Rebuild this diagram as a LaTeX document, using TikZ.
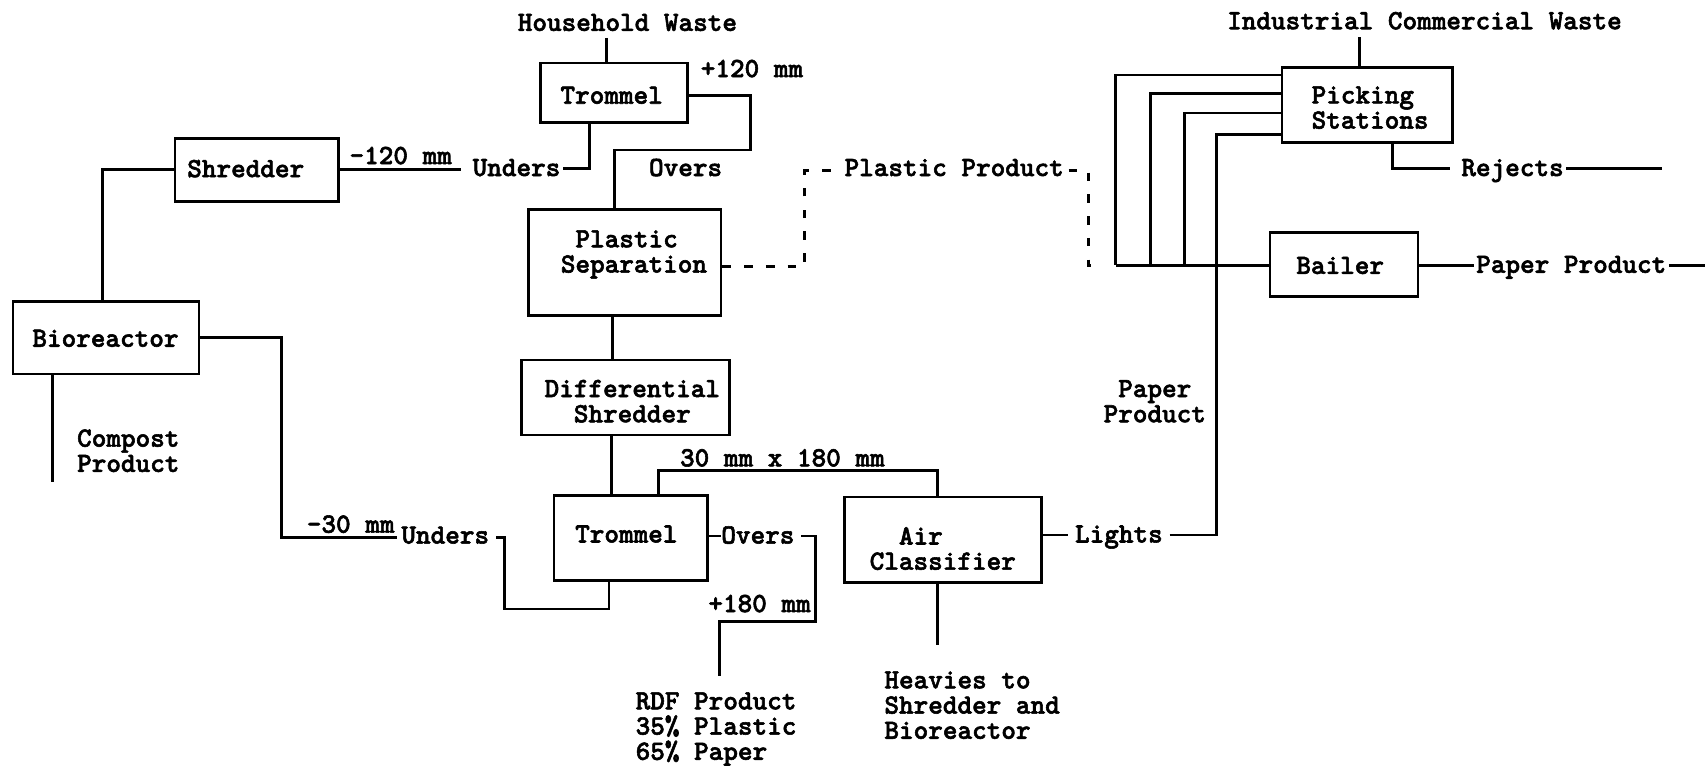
\documentclass[tikz,border=0pt]{standalone}
\usepackage{fontspec}
\newfontfamily\tw{lmmonolt10-bold.otf}[FakeBold=2]
\begin{document}
\begin{tikzpicture}[x=0.5pt,y=-0.5pt,
 box/.style={draw, line width=1.3pt, inner sep=0pt},
 lbl/.style={inner sep=0pt, font=\tw\fontsize{12.8}{11.6}\selectfont},
 one/.style={lbl, text height=6.9pt, text depth=0pt},
 ml/.style={lbl, align=center},
 mll/.style={lbl, align=left},
 conn/.style={line width=1.3pt},
 dashconn/.style={line width=1.3pt, dash pattern=on 4pt off 6pt}]
\useasboundingbox (0,0) rectangle (1568,704);
% boxes
\node[box, minimum width=67.5pt, minimum height=27.5pt] (T1) at (564.5,85.5) {};
\node[box, minimum width=75pt, minimum height=29pt] (SH) at (236,156) {};
\node[box, minimum width=85.5pt, minimum height=33.5pt] (BR) at (97.5,310.5) {};
\node[box, minimum width=88.5pt, minimum height=48.5pt] (PS) at (574.5,241.5) {};
\node[box, minimum width=95.5pt, minimum height=34.5pt] (DS) at (575,365.5) {};
\node[box, minimum width=70.5pt, minimum height=39pt] (T2) at (580,495) {};
\node[box, minimum width=90.5pt, minimum height=39.5pt] (AC) at (867,496.5) {};
\node[box, minimum width=78.5pt, minimum height=34.5pt] (PK) at (1257.5,96.5) {};
\node[box, minimum width=68pt, minimum height=29.5pt] (BL) at (1236,243.5) {};
% box texts
\node[one] (T1t) at (562.5,88.5) {Trommel};
\node[one] (SHt) at (226,156) {Shredder};
\node[one] (BRt) at (97,312) {Bioreactor};
\node[mll] (PSt) at (583,234) {\hphantom{S}Plastic\\Separation};
\node[ml] (DSt) at (581.5,369) {Differential\\Shredder};
\node[one] (T2t) at (576,492) {Trommel};
\node[mll] (ACt) at (867,504.5) {\hphantom{Cl}Air\\Classifier};
\node[mll] (PKt) at (1260,99) {Picking\\Stations};
\node[one] (BLt) at (1232.5,245) {Bailer};
% labels
\node[one] (hw) at (577,21.5) {Household Waste};
\node[one] (icw) at (1310,20) {Industrial Commercial Waste};
\node[one] (p120) at (691.5,64) {+120 mm};
\node[one] (m120) at (368.5,144) {-120 mm};
\node[one] (u1) at (475,155) {Unders};
\node[one] (o1) at (630.5,155) {Overs};
\node[one] (pp) at (877.5,155) {Plastic Product};
\node[one] (rej) at (1391,155) {Rejects};
\node[one] (pap1) at (1445,244) {Paper Product};
\node[ml] (pap2) at (1062,369) {Paper\\Product};
\node[mll] (comp) at (118,414.5) {Compost\\Product};
\node[one] (m30) at (322.5,483) {-30 mm};
\node[one] (u2) at (409.5,493) {Unders};
\node[one] (o2) at (697,493) {Overs};
\node[one] (li) at (1029,492) {Lights};
\node[one] (s30) at (719.5,422) {30 mm x 180 mm};
\node[one] (p180) at (698.5,556) {+180 mm};
\node[mll] (rdf) at (658.5,670.5) {RDF Product\\35\% Plastic\\65\% Paper};
\node[mll] (hv) at (894,648.5) {Heavies to\\Shredder and\\Bioreactor};
% coordinates
\coordinate (rdfin) at (661.5,622);
\coordinate (bus) at (1026,244);
% connectors
\draw[conn] (hw.south -| 558,0) ++(0,6) -- (T1.north -| 558,0);
\draw[conn] (icw.south -| 1250,0) ++(0,7) -- (PK.north -| 1250,0);
\draw[conn] (T1.east |- 0,87.5) -| (690,138) -| (PS.north -| 565,0);
\draw[conn] (T1.south -| 542.5,0) |- ([xshift=1pt]u1.east);
\draw[conn] (SH.east) -- ([xshift=-5pt]SH.east -| u1.west);
\draw[conn] (SH.west) -| (BR.north -| 94,0);
\draw[conn] (BR.south -| 48.6,0) -- ++(0,98);
\draw[conn] (BR.east) -| (258.6,494) -- ([xshift=-2pt]u2.west |- 0,494);
\draw[conn] ([xshift=3pt]u2.east |- 0,494) -| (464,560) -| (T2.south -| 560,0);
\draw[conn] (PS.south -| 563,0) -- (DS.north -| 563,0);
\draw[conn] (DS.south -| 562.5,0) -- (T2.north -| 562.5,0);
\draw[conn] (T2.north -| 605.7,0) -- ++(0,-22) -| (AC.north -| 862,0);
\draw[conn] (T2.east |- o2) -- (o2.west);
\draw[conn] ([xshift=3pt]o2.east) -| (749.7,571.7) -| (rdfin);
\draw[conn] (AC.south -| 862,0) -- ++(0,55.6);
\draw[conn] (AC.east |- li) -- ([xshift=-3pt]li.west);
\draw[conn] ([xshift=3pt]li.east) -| (1118.5,124) -- (PK.west |- 0,124);
\draw[conn] (PK.west |- 0,69) -| (bus);
\draw[conn] (PK.west |- 0,86) -| (1058,244);
\draw[conn] (PK.west |- 0,104) -| (1089,244);
\draw[conn] (bus) -- (BL.west |- bus);
\draw[conn] (BL.east |- 0,244) -- ([xshift=-1pt]pap1.west |- 0,244);
\draw[conn] ([xshift=1pt]pap1.east |- 0,244) -- (1568,244);
\draw[conn] (PK.south -| 1280.6,0) |- ([xshift=-5pt]rej.west);
\draw[conn] ([xshift=1pt]rej.east) -- ++(88,0);
% dashed plastic product route
\draw[dashconn] (PS.east |- 0,245) -- (740,245) -- (740,157) -- ([xshift=-3pt]pp.west |- 0,157);
\draw[dashconn] ([xshift=2pt]pp.east |- 0,157) -- (1001,157) -- (1001,244) -- (1008,244);
\end{tikzpicture}
\end{document}
